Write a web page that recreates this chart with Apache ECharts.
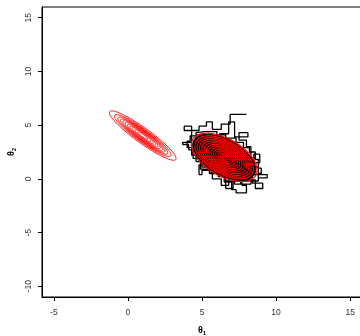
<!DOCTYPE html>
<html>
<head>
<meta charset="utf-8">
<script src="https://cdn.jsdelivr.net/npm/echarts@6/dist/echarts.min.js"></script>
<style>
html, body { margin: 0; padding: 0; background: #fff; }
#chart { width: 360px; height: 336px; }
</style>
</head>
<body>
<div id="chart"></div>
<script>
// tick labels
var xTicks = [-5, 0, 5, 10, 15];
var yTicks = [-10, -5, 0, 5, 10, 15];

// first density: centre and two conjugate half axes (data units), contour scales
var ell1Center = [1.0, 4.03];
var ell1AxisU = [2.23, -2.23];
var ell1AxisV = [0.3, 0.56];
var ell1Levels = [1, 0.85, 0.75, 0.67, 0.6, 0.53, 0.46, 0.39, 0.32, 0.24, 0.15];

// second density
var ell2Center = [6.5, 2.0];
var ell2AxisU = [2.13, -1.67];
var ell2AxisV = [0.62, 1.5];
var ell2Levels = [1, 0.89, 0.82, 0.75, 0.68, 0.61, 0.54, 0.47, 0.4, 0.33, 0.26, 0.19, 0.12, 0.06];
var ell2Dense = 0.96; // black area where the chain is dense

// gibbs chain (each step moves one coordinate)
var chainSteps = [
  [8.0, 6.0], [6.9, 6.0], [6.9, 5.1], [6.3, 5.1], [6.3, 4.6], [5.7, 4.6], [5.7, 5.3], [5.3, 5.3],
  [5.3, 4.9], [4.8, 4.9], [4.8, 4.5], [3.8, 4.5], [3.8, 4.9], [4.3, 4.9], [4.3, 3.4], [3.7, 3.4],
  [3.7, 3.2], [4.1, 3.2], [4.1, 2.7], [4.4, 2.7], [4.4, 1.9], [4.9, 1.9], [4.9, 0.9], [5.4, 0.9],
  [5.4, 1.6], [6.0, 1.6], [6.0, 0.4], [6.5, 0.4], [6.5, -0.3], [7.0, -0.3], [7.0, -1.0], [7.3, -1.0],
  [7.3, -1.3], [8.0, -1.3], [8.0, -0.6], [7.7, -0.6], [7.7, -0.1], [8.6, -0.1], [8.6, -0.9], [9.1, -0.9],
  [9.1, -0.4], [8.4, -0.4], [8.4, 0.4], [9.4, 0.4], [9.4, 0.1], [8.8, 0.1], [8.8, 1.1], [8.5, 1.1],
  [8.5, 2.3], [8.9, 2.3], [8.9, 1.5], [8.3, 1.5], [8.3, 3.0], [8.0, 3.0], [8.0, 3.6], [7.5, 3.6],
  [7.5, 4.3], [8.1, 4.3], [8.1, 3.9], [7.2, 3.9], [7.2, 5.3], [6.8, 5.3], [6.8, 4.2], [6.2, 4.2],
  [6.2, 3.4], [5.1, 3.4], [5.1, 4.1], [4.6, 4.1], [4.6, 3.0], [5.6, 3.0], [5.6, 2.2], [6.5, 2.2],
  [6.5, 1.2], [7.4, 1.2], [7.4, 0.3], [6.8, 0.3], [6.8, -0.6], [6.3, -0.6], [6.3, 0.0], [5.7, 0.0],
  [5.7, 0.8], [5.0, 0.8], [5.0, 0.4], [4.8, 0.4], [4.8, 1.3], [5.9, 1.3], [5.9, 2.6], [7.0, 2.6],
  [7.0, 1.8], [7.8, 1.8], [7.8, 0.8], [8.2, 0.8], [8.2, -0.2], [7.1, -0.2], [7.1, -0.9], [6.6, -0.9],
  [6.6, 0.6], [5.5, 0.6], [5.5, 2.7], [4.7, 2.7], [4.7, 3.7], [5.8, 3.7], [5.8, 2.9], [6.6, 2.9],
  [6.6, 2.0], [7.6, 2.0], [7.6, -0.5], [8.3, -0.5], [8.3, -0.2], [8.8, -0.2], [8.8, 0.5], [9.0, 0.5],
  [9.0, 1.0], [8.8, 1.0], [8.8, 1.8], [8.6, 1.8], [8.6, 2.5], [8.2, 2.5], [8.2, 2.9], [7.8, 2.9],
  [7.8, 3.4], [7.3, 3.4], [7.3, 3.8], [6.6, 3.8], [6.6, 4.1], [6.0, 4.1], [6.0, 4.4], [5.2, 4.4],
  [5.2, 4.3], [4.6, 4.3], [4.6, 4.0], [4.2, 4.0], [4.2, 3.5], [4.0, 3.5], [4.0, 2.9], [4.3, 2.9],
  [4.3, 2.2], [4.6, 2.2], [4.6, 1.6], [5.0, 1.6], [5.0, 1.1], [5.5, 1.1], [5.5, 0.5], [6.1, 0.5],
  [6.1, 0.2], [6.6, 0.2], [6.6, -0.2], [7.2, -0.2], [7.2, -0.5], [7.6, -0.5]
];

function ellipseData(c, u, v, levels) {
  return levels.map(function (s) {
    return [c[0], c[1], u[0], u[1], v[0], v[1], s];
  });
}

function makeEllipse(stroke, fill, width) {
  return function (params, api) {
    var cx = api.value(0), cy = api.value(1);
    var ux = api.value(2), uy = api.value(3);
    var vx = api.value(4), vy = api.value(5);
    var s = api.value(6);
    var pts = [];
    for (var i = 0; i < 160; i++) {
      var t = i / 160 * Math.PI * 2;
      pts.push(api.coord([
        cx + s * (ux * Math.cos(t) + vx * Math.sin(t)),
        cy + s * (uy * Math.cos(t) + vy * Math.sin(t))
      ]));
    }
    return {
      type: 'polygon',
      shape: { points: pts },
      style: { fill: fill, stroke: stroke, lineWidth: width }
    };
  };
}

var chart = echarts.init(document.getElementById('chart'));
var font = 'Liberation Sans, Arial, sans-serif';

chart.setOption({
  animation: false,
  grid: {
    left: 42, top: 7, right: -2, bottom: 39,
    show: true, borderColor: '#000', borderWidth: 1,
    containLabel: false, outerBoundsMode: 'none'
  },
  xAxis: {
    type: 'value', min: -5.8, max: 15.8,
    splitLine: { show: false },
    axisLine: { show: true, onZero: false, lineStyle: { color: '#000', width: 1 } },
    axisTick: { show: true, length: 4, customValues: xTicks, lineStyle: { color: '#000' } },
    axisLabel: { customValues: xTicks, margin: 11, color: '#333', fontSize: 8.5, fontFamily: font },
    name: 'θ{s|1}', nameLocation: 'middle', nameGap: 29, nameMoveOverlap: false,
    nameTextStyle: {
      color: '#000', fontSize: 9, fontWeight: 'bold', fontFamily: font,
      rich: { s: { fontSize: 6, verticalAlign: 'bottom', padding: [4, 0, 0, 0], fontFamily: font } }
    }
  },
  yAxis: {
    type: 'value', min: -11, max: 16,
    splitLine: { show: false },
    axisLine: { show: true, onZero: false, lineStyle: { color: '#000', width: 1 } },
    axisTick: { show: true, length: 4, customValues: yTicks, lineStyle: { color: '#000' } },
    axisLabel: { customValues: yTicks, rotate: 90, margin: 9, color: '#333', fontSize: 8.5, fontFamily: font },
    name: 'θ{s|2}', nameLocation: 'middle', nameGap: 25, nameMoveOverlap: false,
    nameTextStyle: {
      color: '#000', fontSize: 9, fontWeight: 'bold', fontFamily: font,
      rich: { s: { fontSize: 6, verticalAlign: 'bottom', padding: [4, 0, 0, 0], fontFamily: font } }
    }
  },
  series: [
    {
      type: 'line',
      data: chainSteps,
      showSymbol: false,
      lineStyle: { color: '#000', width: 1.3 },
      z: 2
    },
    {
      type: 'custom',
      data: ellipseData(ell2Center, ell2AxisU, ell2AxisV, [ell2Dense]),
      renderItem: makeEllipse('#000', '#000', 1),
      z: 3
    },
    {
      type: 'custom',
      data: ellipseData(ell2Center, ell2AxisU, ell2AxisV, ell2Levels),
      renderItem: makeEllipse('#ff0000', 'none', 1.2),
      z: 4
    },
    {
      type: 'custom',
      data: ellipseData(ell1Center, ell1AxisU, ell1AxisV, ell1Levels),
      renderItem: makeEllipse('#ff0000', 'none', 1),
      z: 4
    }
  ]
});
</script>
</body>
</html>
